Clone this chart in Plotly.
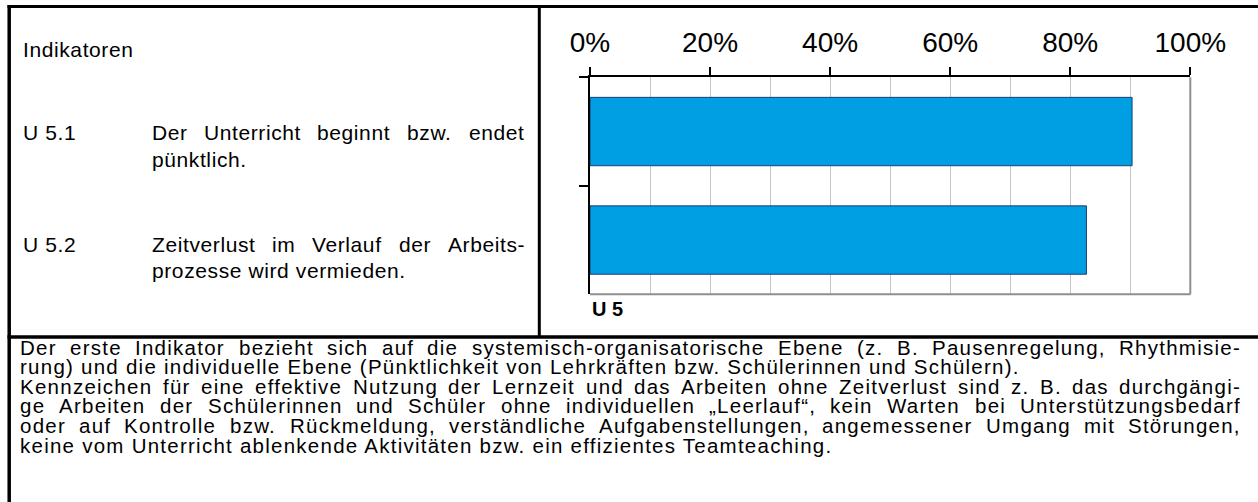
import plotly.graph_objects as go

W, H = 1258, 502

# ---------------- data ----------------
categories = ["U 5.1", "U 5.2"]
values = [90.3, 82.7]
x_tick_vals = [0, 20, 40, 60, 80, 100]
x_tick_labels = ["0%", "20%", "40%", "60%", "80%", "100%"]
axis_label = "U 5"
header = "Indikatoren"
indicator_codes = ["U 5.1", "U 5.2"]
indicator_texts = [
    ["Der Unterricht beginnt bzw. endet", "pünktlich."],
    ["Zeitverlust im Verlauf der Arbeits-", "prozesse wird vermieden."],
]
note_lines = [
    "Der erste Indikator bezieht sich auf die systemisch-organisatorische Ebene (z. B. Pausenregelung, Rhythmisie-",
    "rung) und die individuelle Ebene (Pünktlichkeit von Lehrkräften bzw. Schülerinnen und Schülern).",
    "Kennzeichen für eine effektive Nutzung der Lernzeit und das Arbeiten ohne Zeitverlust sind z. B. das durchgängi-",
    "ge Arbeiten der Schülerinnen und Schüler ohne individuellen „Leerlauf“, kein Warten bei Unterstützungsbedarf",
    "oder auf Kontrolle bzw. Rückmeldung, verständliche Aufgabenstellungen, angemessener Umgang mit Störungen,",
    "keine vom Unterricht ablenkende Aktivitäten bzw. ein effizientes Teamteaching.",
]
note_justified = [True, False, True, True, True, False]

# ---------------- helpers ----------------
FONT = "Arial, Liberation Sans, Helvetica, sans-serif"
AW = {' ': 278, '!': 278, '"': 355, '%': 889, '(': 333, ')': 333, ',': 278, '-': 333,
      '.': 278, '/': 278, ':': 278, ';': 278,
      'A': 667, 'B': 667, 'C': 722, 'D': 722, 'E': 667, 'F': 611, 'G': 778, 'H': 722,
      'I': 278, 'J': 500, 'K': 667, 'L': 556, 'M': 833, 'N': 722, 'O': 778, 'P': 667,
      'Q': 778, 'R': 722, 'S': 667, 'T': 611, 'U': 722, 'V': 667, 'W': 944, 'X': 667,
      'Y': 667, 'Z': 611,
      'a': 556, 'b': 556, 'c': 500, 'd': 556, 'e': 556, 'f': 278, 'g': 556, 'h': 556,
      'i': 222, 'j': 222, 'k': 500, 'l': 222, 'm': 833, 'n': 556, 'o': 556, 'p': 556,
      'q': 556, 'r': 333, 's': 500, 't': 278, 'u': 556, 'v': 500, 'w': 722, 'x': 500,
      'y': 500, 'z': 500, 'ä': 556, 'ö': 556, 'ü': 556, 'Ä': 667, 'Ö': 778, 'Ü': 722,
      'ß': 611, '„': 333, '“': 333, '”': 333}


def tw(s, size, ls=0.0):
    return sum(AW.get(c, 556) for c in s) / 1000.0 * size + ls * len(s)


def px(x):
    return x / W


def py(y):
    return 1 - y / H


annotations = []


def add_text(text, x, y_mid, size, bold=False, ls=0.0):
    t = f"<b>{text}</b>" if bold else text
    if ls:
        t = f'<span style="letter-spacing:{ls}px">{t}</span>'
    annotations.append(dict(
        text=t, x=px(x), y=py(y_mid), xref="paper", yref="paper",
        xanchor="left", yanchor="middle", showarrow=False, borderpad=0,
        font=dict(family=FONT, size=size, color="black")))


def add_line(text, x0, x1, baseline, size, justify, ls=0.0):
    y_mid = baseline - 0.36 * size
    if not justify:
        add_text(text, x0, y_mid, size, ls=ls)
        return
    words = text.split(" ")
    widths = [tw(w, size, ls) for w in words]
    gap = (x1 - x0 - sum(widths)) / (len(words) - 1)
    x = x0
    for w, wd in zip(words, widths):
        add_text(w, x, y_mid, size, ls=ls)
        x += wd + gap


# ---------------- left text block ----------------
FS, LS = 21, 0.6
add_text(header, 22, 57.3 - 0.36 * FS, FS, ls=LS)
code_baselines = [140.0, 251.7]
for code, lines, b in zip(indicator_codes, indicator_texts, code_baselines):
    add_text(code, 22, b - 0.36 * FS, FS, ls=LS)
    add_line(lines[0], 150.5, 524.0, b, FS, True, ls=LS)
    add_line(lines[1], 150.5, 524.0, b + 26.7, FS, False, ls=LS)

# ---------------- bottom note ----------------
NFS, NLS = 20.5, 1.25
for i, (ln, j) in enumerate(zip(note_lines, note_justified)):
    add_line(ln, 19.0, 1240.0, 354.5 + i * 19.6, NFS, j, ls=NLS)

# axis caption
add_text(axis_label, 590.5, 309.0, 20, bold=True)

# ---------------- chart ----------------
fig = go.Figure()
fig.add_trace(go.Bar(
    y=categories, x=values, orientation="h", width=0.63,
    marker=dict(color="#009ee3", line=dict(color="#1b3f73", width=1)),
    hoverinfo="x+y"))

x0d, x1d = 590 / W, 1190.3 / W
y0d, y1d = 1 - 294.3 / H, 1 - 77.3 / H

fig.update_xaxes(
    domain=[x0d, x1d], range=[0, 100], side="top", automargin=False,
    tickmode="array", tickvals=x_tick_vals, ticktext=x_tick_labels,
    ticks="outside", ticklen=8, tickwidth=2, tickcolor="black",
    showline=True, linecolor="black", linewidth=2,
    showgrid=True, gridcolor="#c6c6c6", gridwidth=1,
    minor=dict(dtick=10, tick0=0, showgrid=True, gridcolor="#c6c6c6", gridwidth=1),
    tickfont=dict(family=FONT, size=28, color="black"),
    ticklabelstandoff=4, zeroline=False, fixedrange=True)

fig.update_yaxes(
    domain=[y0d, y1d], type="category", categoryorder="array", automargin=False,
    categoryarray=categories, range=[1.5, -0.5],
    showticklabels=False, ticks="outside", ticklen=9, tickwidth=2,
    tickcolor="black", tickson="boundaries",
    showline=True, linecolor="black", linewidth=2, showgrid=False,
    zeroline=False, fixedrange=True)

shapes = [
    # plot right and bottom frame (grey)
    dict(type="line", xref="x domain", yref="y domain", x0=1, x1=1, y0=0, y1=1,
         line=dict(color="#8f8f8f", width=2)),
    dict(type="line", xref="x domain", yref="y domain", x0=0, x1=1, y0=0, y1=0,
         line=dict(color="#8f8f8f", width=2)),
    # table borders
    dict(type="line", xref="paper", yref="paper", x0=px(7.5), x1=1.0, y0=py(6.5), y1=py(6.5),
         line=dict(color="black", width=3)),
    dict(type="line", xref="paper", yref="paper", x0=px(9.2), x1=px(9.2), y0=py(5), y1=0.0,
         line=dict(color="black", width=3.5)),
    dict(type="line", xref="paper", yref="paper", x0=px(539.3), x1=px(539.3), y0=py(5), y1=py(337),
         line=dict(color="black", width=3)),
    dict(type="line", xref="paper", yref="paper", x0=px(7.5), x1=1.0, y0=py(337), y1=py(337),
         line=dict(color="black", width=3.5)),
]

fig.update_layout(
    template="none", autosize=False,
    width=W, height=H, margin=dict(l=0, r=0, t=0, b=0, pad=0, autoexpand=False),
    paper_bgcolor="white", plot_bgcolor="white", showlegend=False,
    bargap=0.37, annotations=annotations, shapes=shapes,
    font=dict(family=FONT, color="black"))

fig.write_html(
    "out.html",
    config={"responsive": False, "displayModeBar": False},
    post_script="document.body.style.margin='0';document.body.style.padding='0';"
                "document.body.style.overflow='hidden';")
